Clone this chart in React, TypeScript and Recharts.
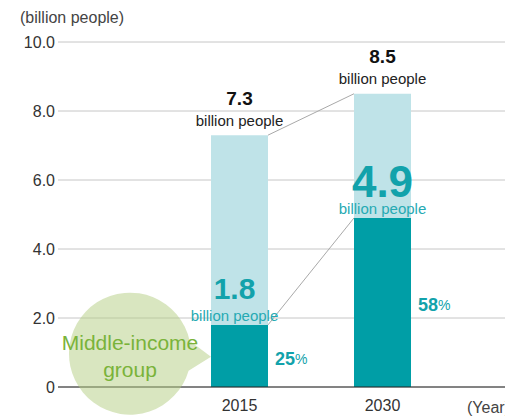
import React from 'react';
import {
  BarChart,
  Bar,
  XAxis,
  YAxis,
  CartesianGrid,
  LabelList,
  ReferenceLine,
  ReferenceDot,
} from 'recharts';

// values
const years = ['2015', '2030'];
const middleIncome = [1.8, 4.9];
const otherPeople = [5.5, 3.6];
const totalPeople = [7.3, 8.5];
const middleShare = [25, 58];
const yTicks = [0, 2, 4, 6, 8, 10];

const data = years.map((year, i) => ({
  year,
  middle: middleIncome[i],
  other: otherPeople[i],
}));

const BAR = 57;
const FONT = '"Liberation Sans", Arial, Helvetica, sans-serif';
const DARK = '#009ea6';
const LIGHT = '#bfe3e8';
const TEAL_TEXT = '#12a2ab';
const MID_SIZE = [30, 44];
const MID_DX = [-5, 0];

const box = (p: any) => {
  const vb = p.viewBox && p.viewBox.width !== undefined ? p.viewBox : p;
  return { x: Number(vb.x), y: Number(vb.y), width: Number(vb.width), height: Number(vb.height) };
};

// total label above the light segment, plus the middle-income label above the dark one
const TopLabels = (p: any) => {
  const { x, y, width, height } = box(p);
  const i = p.index;
  const cx = x + width / 2;
  const darkTop = y + height;
  return (
    <g fontFamily={FONT}>
      <text x={cx} y={y - 37} textAnchor="middle" dominantBaseline="central" fontSize={19} fontWeight="bold" fill="#111">
        {totalPeople[i].toFixed(1)}
      </text>
      <text x={cx} y={y - 15} textAnchor="middle" dominantBaseline="central" fontSize={15} fill="#222">
        billion people
      </text>
      <text x={cx + MID_DX[i]} y={darkTop - 36} textAnchor="middle" dominantBaseline="central" fontSize={MID_SIZE[i]} fontWeight="bold" fill={TEAL_TEXT}>
        {middleIncome[i].toFixed(1)}
      </text>
      <text x={cx + MID_DX[i]} y={darkTop - 9} textAnchor="middle" dominantBaseline="central" fontSize={15} fill="#26aab3">
        billion people
      </text>
    </g>
  );
};

const ShareLabel = (p: any) => {
  const { x, y, width, height } = box(p);
  const i = p.index;
  return (
    <text x={x + width + 7} y={y + height / 2 + 3} dominantBaseline="central" fontFamily={FONT} fill={TEAL_TEXT}>
      <tspan fontSize={18} fontWeight="bold">{middleShare[i]}</tspan>
      <tspan fontSize={14}>%</tspan>
    </text>
  );
};

const Connector = (p: any) => (
  <line x1={p.x1 + BAR / 2} y1={p.y1} x2={p.x2 - BAR / 2} y2={p.y2} stroke="#a9a9a9" strokeWidth={1} />
);

// speech bubble; translucent so the grid and axis line show through as in the reference
const Bubble = (p: any) => {
  const tipX = p.cx - BAR / 2;
  const tipY = p.cy;
  const ccx = tipX - 81;
  const ccy = tipY - 3;
  const r = 61;
  const top = -13;
  const bot = 17;
  const dxTop = Math.sqrt(r * r - top * top);
  const dxBot = Math.sqrt(r * r - bot * bot);
  return (
    <g>
      <path
        fill="#b4cd82"
        fillOpacity={0.5}
        d={`M ${ccx + dxTop} ${ccy + top} A ${r} ${r} 0 1 0 ${ccx + dxBot} ${ccy + bot} L ${tipX} ${tipY} Z`}
      />
      <text x={ccx} y={ccy - 11} textAnchor="middle" dominantBaseline="central" fontFamily={FONT} fontSize={21} fill="#7ab33a">
        Middle-income
      </text>
      <text x={ccx} y={ccy + 16} textAnchor="middle" dominantBaseline="central" fontFamily={FONT} fontSize={21} fill="#7ab33a">
        group
      </text>
    </g>
  );
};

export default function App() {
  return (
    <div style={{ position: 'fixed', left: 0, top: 0, width: 505, height: 417, background: '#fff', fontFamily: FONT }}>
      <BarChart width={505} height={417} data={data} margin={{ top: 42, right: 0, left: 0, bottom: 0 }}>
        <ReferenceDot x="2015" y={0.88} shape={Bubble} ifOverflow="visible" />
        <CartesianGrid vertical={false} stroke="#c6c6c6" />
        <XAxis
          dataKey="year"
          height={30}
          padding={{ left: 110, right: 51 }}
          tickLine={false}
          tickSize={0}
          tickMargin={13}
          axisLine={{ stroke: '#222' }}
          tick={{ fontSize: 16, fill: '#333', fontFamily: FONT }}
          label={(lp: any) => {
            const vb = lp.viewBox;
            return (
              <text x={vb.x + vb.width - 38} y={vb.y + 20} dominantBaseline="central" fontSize={16} fill="#444" fontFamily={FONT}>
                (Year)
              </text>
            );
          }}
        />
        <YAxis
          width={58}
          domain={[0, 10]}
          ticks={yTicks}
          axisLine={false}
          tickLine={false}
          tickSize={0}
          tickMargin={3}
          tick={{ fontSize: 16, fill: '#333', fontFamily: FONT }}
          tickFormatter={(v: number) => (v === 0 ? '0' : v.toFixed(1))}
          label={(lp: any) => {
            const vb = lp.viewBox;
            return (
              <text x={20} y={vb.y - 25} dominantBaseline="central" fontSize={16} fill="#444" fontFamily={FONT}>
                (billion people)
              </text>
            );
          }}
        />
        <Bar dataKey="middle" stackId="a" fill={DARK} barSize={BAR} isAnimationActive={false}>
          <LabelList dataKey="middle" content={ShareLabel} />
        </Bar>
        <Bar dataKey="other" stackId="a" fill={LIGHT} barSize={BAR} isAnimationActive={false}>
          <LabelList dataKey="other" content={TopLabels} />
        </Bar>
        <ReferenceLine
          segment={[
            { x: years[0], y: totalPeople[0] },
            { x: years[1], y: totalPeople[1] },
          ]}
          shape={Connector}
        />
        <ReferenceLine
          segment={[
            { x: years[0], y: middleIncome[0] },
            { x: years[1], y: middleIncome[1] },
          ]}
          shape={Connector}
        />
      </BarChart>
    </div>
  );
}
